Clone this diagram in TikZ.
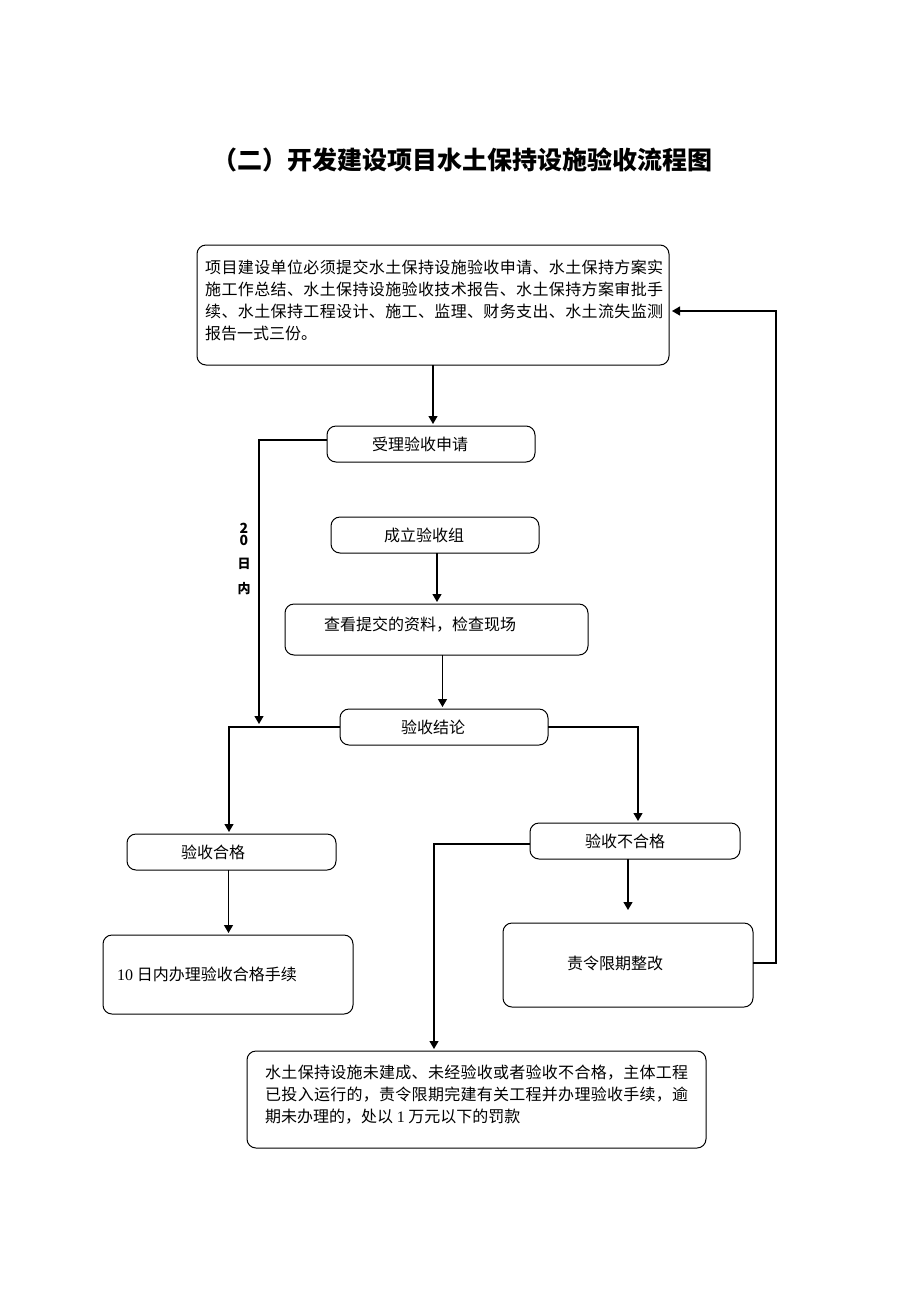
\documentclass[tikz,border=0pt]{standalone}
\usepackage{fontspec}
\setmainfont{Liberation Serif}
\newfontfamily\cjk{Noto Sans CJK SC}
\newfontfamily\latn{Liberation Serif}
\usetikzlibrary{arrows.meta}
\XeTeXinterchartokenstate=1
\count255="3000
\loop \XeTeXcharclass\count255=7 \advance\count255 by 1 \ifnum\count255<"A000 \repeat
\XeTeXcharclass"FF0C=7
\XeTeXinterchartoks 7 7 = {\hskip 0pt plus 1pt\relax}
\begin{document}
\begin{tikzpicture}[x=1pt,y=-1pt,
  box/.style={draw, line width=1pt, rounded corners=9pt, inner sep=0pt, outer sep=0pt, anchor=north west},
  lbl/.style={font=\cjk\fontsize{16}{22}\selectfont, inner sep=0pt},
  vlbl/.style={font=\cjk\bfseries\fontsize{13}{13}\selectfont, inner sep=0pt},
  vdig/.style={font=\cjk\bfseries\fontsize{14}{14}\selectfont, inner sep=0pt, text height=10pt, text depth=0pt},
  ln/.style={line width=1.2pt},
  arr/.style={line width=1.2pt, -{Triangle[length=8pt,width=9pt]}, shorten >=2pt}]
\useasboundingbox (0,0) rectangle (920,1302);
% title
\node[font=\cjk\bfseries\fontsize{25}{30}\selectfont, inner sep=0pt] (title) at (462,160) {（二）开发建设项目水土保持设施验收流程图};
% boxes
\node[box, minimum width=472pt, minimum height=120pt] (apply) at (197,245) {};
\node[lbl, anchor=base west, align=left] (applytext) at (205,339)
  {\makebox[458pt][s]{项目建设单位必须提交水土保持设施验收申请、水土保持方案实}\\
   \makebox[458pt][s]{施工作总结、水土保持设施验收技术报告、水土保持方案审批手}\\
   \makebox[458pt][s]{续、水土保持工程设计、施工、监理、财务支出、水土流失监测}\\
   报告一式三份。};
\node[box, minimum width=208pt, minimum height=36pt] (accept) at (327,426) {};
\node[lbl] (accepttext) at (420,444) {受理验收申请};
\node[box, minimum width=208pt, minimum height=36pt] (group) at (331,517) {};
\node[lbl] (grouptext) at (424,535) {成立验收组};
\node[box, minimum width=303pt, minimum height=51pt] (check) at (285,604) {};
\node[lbl] (checktext) at (420,625) {查看提交的资料，检查现场};
\node[box, minimum width=208pt, minimum height=36pt] (concl) at (340,709) {};
\node[lbl] (concltext) at (433,727) {验收结论};
\node[box, minimum width=209pt, minimum height=36pt] (pass) at (127,834) {};
\node[lbl] (passtext) at (213,852) {验收合格};
\node[box, minimum width=210pt, minimum height=36pt] (fail) at (530,823) {};
\node[lbl] (failtext) at (625,841) {验收不合格};
\node[box, minimum width=250pt, minimum height=79pt] (passdo) at (103,935) {};
\node[lbl, anchor=west] (passdotext) at (117,974) {{\latn 10} 日内办理验收合格手续};
\node[box, minimum width=250pt, minimum height=84pt] (rectify) at (503,923) {};
\node[lbl] (rectifytext) at (615,963) {责令限期整改};
\node[box, minimum width=459pt, minimum height=97pt] (penalty) at (247,1051) {};
\node[lbl, anchor=base west, align=left] (penaltytext) at (265,1122)
  {\makebox[423pt][s]{水土保持设施未建成、未经验收或者验收不合格，主体工程}\\
   \makebox[423pt][s]{已投入运行的，责令限期完建有关工程并办理验收手续，逾}\\
   期未办理的，处以 {\latn 1} 万元以下的罚款};
% vertical label
\node[vdig] (l2) at (244,528) {2};
\node[vdig] (l0) at (244,540) {0};
\node[vlbl] (lri) at (244,564) {日};
\node[vlbl] (lnei) at (244,589) {内};
% connectors
\coordinate (j1) at (259,726);
\draw[arr] (apply.south) -- (apply.south |- accept.north);
\draw[arr] ([yshift=4pt]accept.west) -| (j1);
\draw[arr] ([xshift=2pt]group.south) -- ([xshift=2pt]group.south |- check.north);
\draw[arr] ([xshift=6pt]check.south) -- ([xshift=6pt]check.south |- concl.north);
\draw[arr] (concl.west) -| ([xshift=-2.5pt]pass.north);
\draw[arr] (concl.east) -| ([xshift=3pt]fail.north);
\draw[arr] ([xshift=-3pt]pass.south) -- ([xshift=-3pt]pass.south |- passdo.north);
\draw[arr, shorten >=13pt] ([xshift=-7pt]fail.south) -- ([xshift=-7pt]fail.south |- rectify.north);
\coordinate (rt) at (776,963);
\draw[arr, shorten >=3pt] ([yshift=2pt]rectify.east) -- (rt) |- ([yshift=-6pt]apply.east);
\draw[arr] ([yshift=-3pt]fail.west) -| ([xshift=-42.5pt]penalty.north);
\end{tikzpicture}
\end{document}
